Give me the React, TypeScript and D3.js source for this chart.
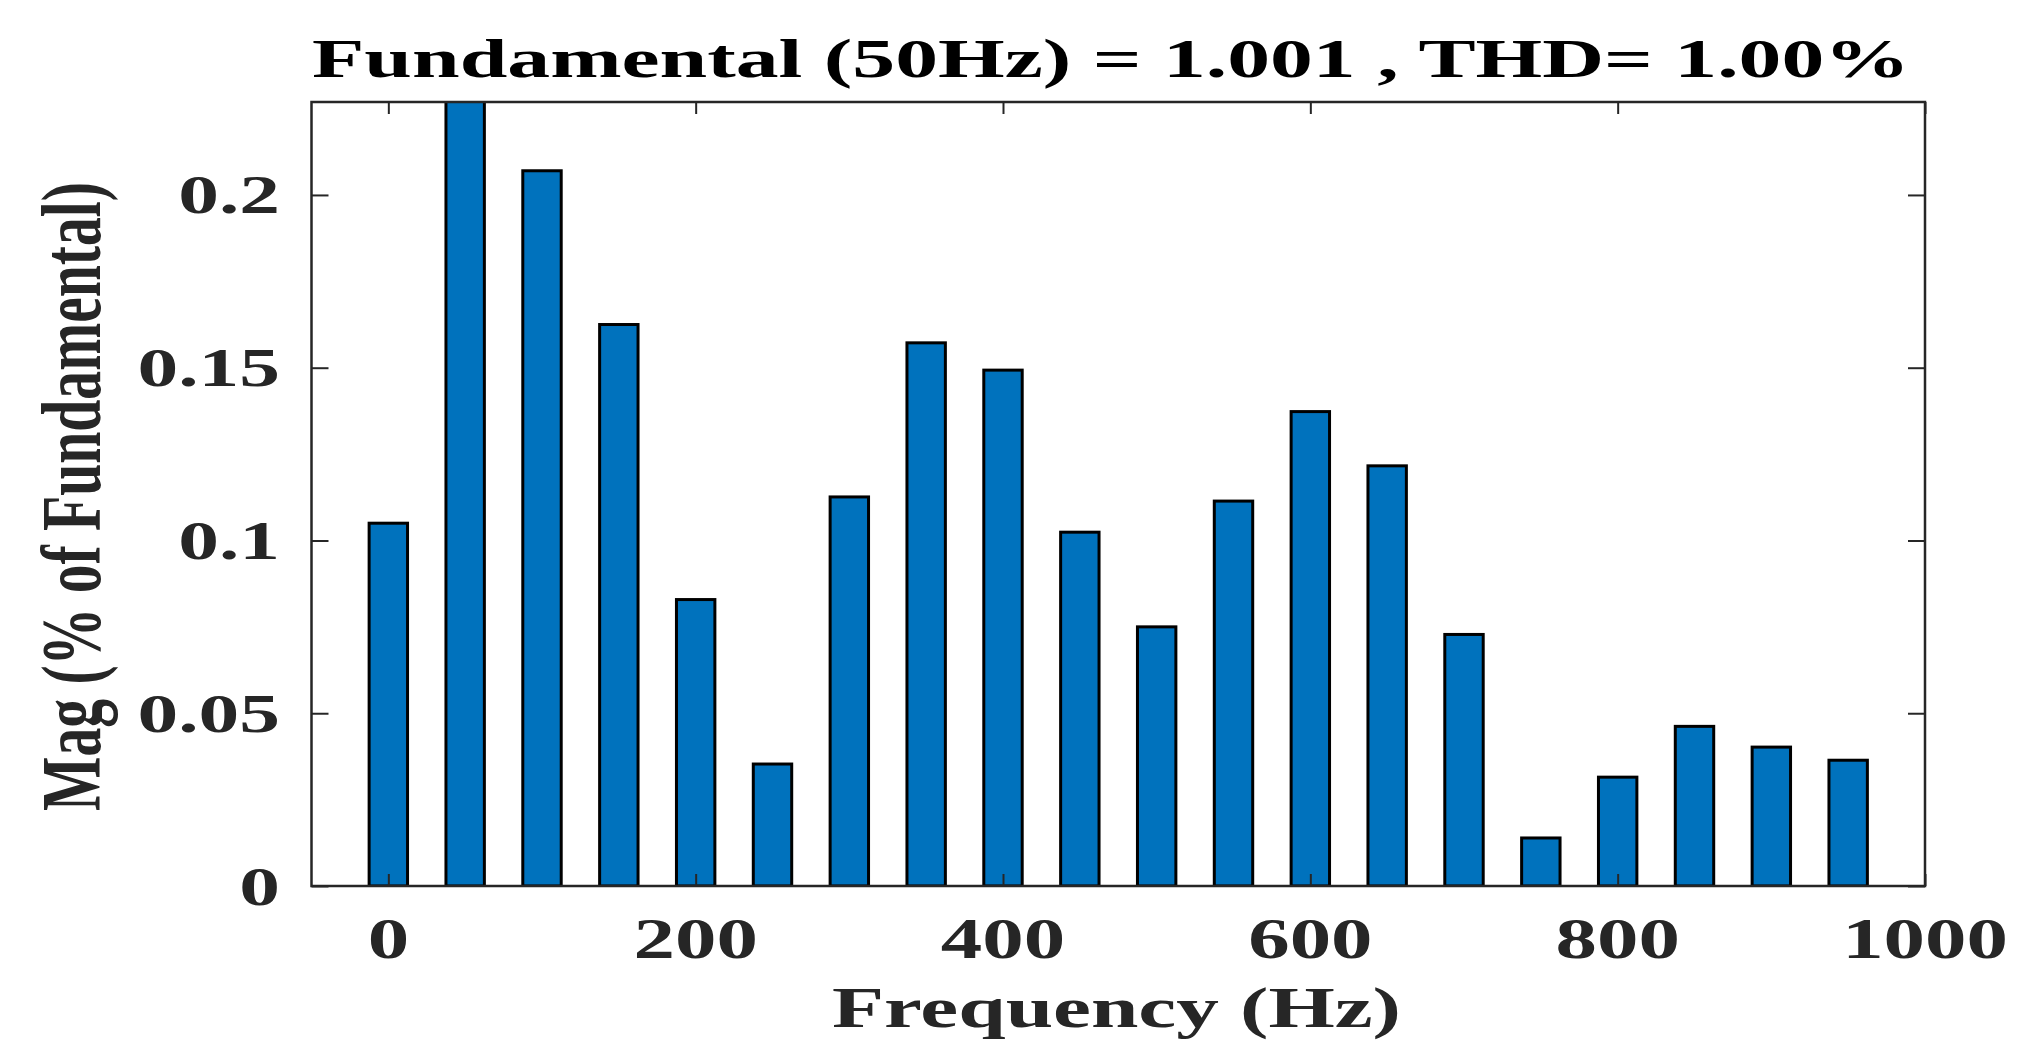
import React, { useEffect, useRef } from "react";
import * as d3 from "d3";

// harmonic spectrum, 50 Hz steps
const freqs = [0, 50, 100, 150, 200, 250, 300, 350, 400, 450, 500, 550, 600, 650, 700, 750, 800, 850, 900, 950];
// fundamental (50 Hz) is 100 % and runs off the top of the axes
const mags = [
  0.105, 100, 0.207, 0.1625, 0.0829, 0.0353, 0.1126, 0.1572, 0.1493, 0.1024,
  0.075, 0.1114, 0.1373, 0.1216, 0.0728, 0.0139, 0.0315, 0.0462, 0.0402, 0.0364,
];
const xTicks = [0, 200, 400, 600, 800, 1000];
const yTicks = [0, 0.05, 0.1, 0.15, 0.2];
const yTickLabels = ["0", "0.05", "0.1", "0.15", "0.2"];

const titleText = "Fundamental (50Hz) = 1.001 , THD= 1.00%";
const xLabelText = "Frequency (Hz)";
const yLabelText = "Mag (% of Fundamental)";

const W = 2033;
const H = 1062;
const margin = { top: 102, right: 108, bottom: 176, left: 311.5 };
const stretch = 1.48; // the figure's text is stretched sideways
const axisColor = "#262626";
const font = "'Liberation Serif', 'Times New Roman', serif";

const App = () => {
  const svgRef = useRef<SVGSVGElement | null>(null);

  useEffect(() => {
    const svg = d3.select(svgRef.current);
    svg.selectAll("*").remove();

    const x = d3
      .scaleLinear()
      .domain([-50, 1000])
      .range([margin.left, W - margin.right]);
    const y = d3
      .scaleLinear()
      .domain([0, 0.2269])
      .range([H - margin.bottom, margin.top]);

    svg
      .append("defs")
      .append("clipPath")
      .attr("id", "plotClip")
      .append("rect")
      .attr("x", margin.left)
      .attr("y", margin.top)
      .attr("width", W - margin.left - margin.right)
      .attr("height", H - margin.top - margin.bottom);

    // bars
    const barW = x(25) - x(0);
    svg
      .append("g")
      .attr("clip-path", "url(#plotClip)")
      .selectAll("rect")
      .data(freqs)
      .enter()
      .append("rect")
      .attr("x", (d) => x(d) - barW / 2)
      .attr("y", (_, i) => y(mags[i]))
      .attr("width", barW)
      .attr("height", (_, i) => y(0) - y(mags[i]))
      .attr("fill", "#0072BD")
      .attr("stroke", "#000")
      .attr("stroke-width", 3);

    // axes (ticks point inward, box on all sides)
    const styleAxis = (g: any) => {
      g.select(".domain").remove();
      g.selectAll(".tick line").attr("stroke", axisColor).attr("stroke-width", 2);
    };

    const gx = svg
      .append("g")
      .attr("transform", `translate(0,${y(0)})`)
      .call(d3.axisBottom(x).tickValues(xTicks).tickSize(-12).tickFormat(() => ""));
    styleAxis(gx);
    const gxTop = svg
      .append("g")
      .attr("transform", `translate(0,${margin.top})`)
      .call(d3.axisTop(x).tickValues(xTicks).tickSize(-12).tickFormat(() => ""));
    styleAxis(gxTop);
    const gy = svg
      .append("g")
      .attr("transform", `translate(${margin.left},0)`)
      .call(d3.axisLeft(y).tickValues(yTicks).tickSize(-17).tickFormat(() => ""));
    styleAxis(gy);
    const gyRight = svg
      .append("g")
      .attr("transform", `translate(${W - margin.right},0)`)
      .call(d3.axisRight(y).tickValues(yTicks).tickSize(-17).tickFormat(() => ""));
    styleAxis(gyRight);

    svg
      .append("rect")
      .attr("x", margin.left)
      .attr("y", margin.top)
      .attr("width", W - margin.left - margin.right)
      .attr("height", H - margin.top - margin.bottom)
      .attr("fill", "none")
      .attr("stroke", axisColor)
      .attr("stroke-width", 2.5);

    // tick labels
    svg
      .append("g")
      .selectAll("text")
      .data(xTicks)
      .enter()
      .append("text")
      .attr("transform", (d) => `translate(${x(d)},958) scale(${stretch},1)`)
      .attr("text-anchor", "middle")
      .attr("font-family", font)
      .attr("font-weight", "bold")
      .attr("font-size", 56)
      .attr("fill", axisColor)
      .text((d) => String(d));

    svg
      .append("g")
      .selectAll("text")
      .data(yTicks)
      .enter()
      .append("text")
      .attr("transform", (d) => `translate(280,${y(d) + 18.5}) scale(${stretch},1)`)
      .attr("text-anchor", "end")
      .attr("font-family", font)
      .attr("font-weight", "bold")
      .attr("font-size", 55)
      .attr("fill", axisColor)
      .text((_, i) => yTickLabels[i]);

    // title and axis labels
    svg
      .append("text")
      .attr("x", 312)
      .attr("y", 77)
      .attr("textLength", 1598)
      .attr("lengthAdjust", "spacingAndGlyphs")
      .attr("font-family", font)
      .attr("font-weight", "bold")
      .attr("font-size", 54)
      .attr("fill", "#000")
      .text(titleText);

    svg
      .append("text")
      .attr("x", 1116.5)
      .attr("y", 1027)
      .attr("text-anchor", "middle")
      .attr("textLength", 569)
      .attr("lengthAdjust", "spacingAndGlyphs")
      .attr("font-family", font)
      .attr("font-weight", "bold")
      .attr("font-size", 57)
      .attr("fill", axisColor)
      .text(xLabelText);

    svg
      .append("text")
      .attr("transform", "translate(100,496.5) rotate(-90)")
      .attr("text-anchor", "middle")
      .attr("textLength", 629)
      .attr("lengthAdjust", "spacingAndGlyphs")
      .attr("font-family", font)
      .attr("font-weight", "bold")
      .attr("font-size", 84)
      .attr("fill", axisColor)
      .text(yLabelText);
  }, []);

  return (
    <div style={{ position: "absolute", left: 0, top: 0, background: "#fff" }}>
      <svg ref={svgRef} width={W} height={H} style={{ display: "block" }} />
    </div>
  );
};

export default App;
